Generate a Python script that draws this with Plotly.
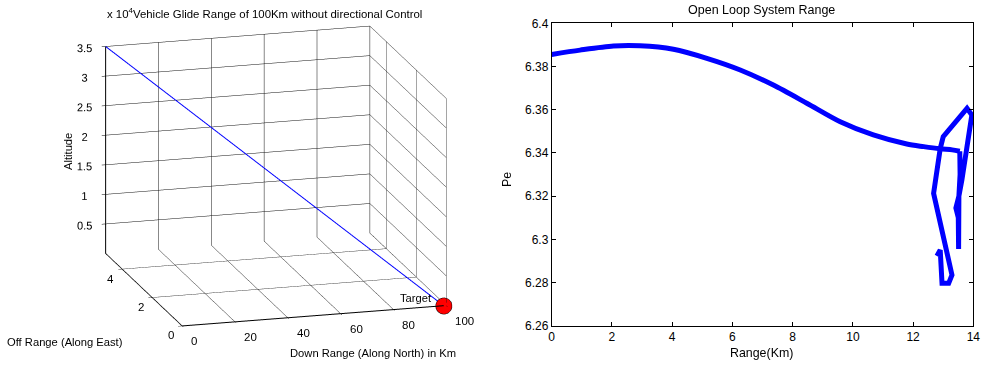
import plotly.graph_objects as go

# ---------------- Left: 3D glide trajectory ----------------
down_range_km = [0, 20, 40, 60, 80, 99]
off_range = [5.1, 4.07, 3.04, 2.01, 0.98, 0.0]
altitude_m = [35000, 27930, 20860, 13790, 6720, 0]
target_xyz = [99, 0, 0]
x3_ticks = [0, 20, 40, 60, 80, 100]
x3_ticktext = ["0", "20", "40", "60", "80", "100"]
y3_ticks = [0, 2, 4]
y3_ticktext = ["0", "2", "4"]
z3_ticks = [5000, 10000, 15000, 20000, 25000, 30000, 35000]
z3_ticktext = ["0.5", "1", "1.5", "2", "2.5", "3", "3.5"]

# ---------------- Right: open loop system range ----------------
range_km = [0, 0.94, 2.05, 2.93, 4.04, 5.15, 6.26, 7.36, 8.47, 9.58, 10.68,
            11.79, 12.35, 12.9, 13.3, 13.55, 13.56, 13.52, 13.42, 13.5, 13.51,
            13.52, 13.62, 13.95, 13.79, 13.0, 12.9, 12.68, 13.29, 13.18, 12.96,
            12.9, 12.79]
pe = [6.3856, 6.3876, 6.3895, 6.3896, 6.388, 6.3838, 6.3784, 6.3714, 6.363,
      6.3544, 6.3483, 6.3441, 6.3429, 6.3419, 6.3414, 6.3408, 6.330, 6.320,
      6.3145, 6.310, 6.2955, 6.320, 6.3275, 6.3575, 6.3606, 6.3475, 6.342,
      6.3213, 6.2835, 6.2796, 6.2796, 6.295, 6.2923]
smooth_part_end = 15  # smooth glide curve up to here, then the sharp loop
x2_ticks = [0, 2, 4, 6, 8, 10, 12, 14]
y2_ticks = [6.26, 6.28, 6.3, 6.32, 6.34, 6.36, 6.38, 6.4]
y2_ticktext = ["6.26", "6.28", "6.3", "6.32", "6.34", "6.36", "6.38", "6.4"]

FONT = "Liberation Sans, Arial, sans-serif"

fig = go.Figure()

fig.add_trace(go.Scatter3d(
    x=down_range_km, y=off_range, z=altitude_m, mode="lines",
    line=dict(color="#0000ff", width=2), showlegend=False, hoverinfo="skip"))
fig.add_trace(go.Scatter3d(
    x=[target_xyz[0]], y=[target_xyz[1]], z=[target_xyz[2]], mode="markers",
    marker=dict(size=9.5, color="#ff0000", line=dict(color="black", width=1)),
    showlegend=False, hoverinfo="skip"))

fig.add_trace(go.Scatter(
    x=range_km[:smooth_part_end + 1], y=pe[:smooth_part_end + 1], mode="lines",
    line=dict(color="#0000ff", width=5, shape="spline", smoothing=0.8),
    xaxis="x", yaxis="y", showlegend=False, hoverinfo="skip"))
fig.add_trace(go.Scatter(
    x=range_km[smooth_part_end:], y=pe[smooth_part_end:], mode="lines",
    line=dict(color="#0000ff", width=5),
    xaxis="x", yaxis="y", showlegend=False, hoverinfo="skip"))

ax3 = dict(showgrid=True, gridcolor="#111111", gridwidth=1, showline=True,
           linecolor="black", linewidth=2, ticks="outside", ticklen=4,
           tickcolor="black", showbackground=False, zeroline=False,
           showspikes=False, title=dict(text=""), tickangle=0,
           tickfont=dict(family=FONT, size=11.5, color="black"))

tick_font = dict(family=FONT, size=11.5, color="black")
scene_ann = [dict(x=target_xyz[0], y=target_xyz[1], z=target_xyz[2],
                  text="Target", showarrow=False, xanchor="right",
                  xshift=-10, yshift=7,
                  font=dict(family=FONT, size=11.2, color="black"))]
for v, t in zip(x3_ticks, x3_ticktext):
    scene_ann.append(dict(x=v, y=0, z=0, text=t, showarrow=False,
                          xanchor="left", yanchor="middle", xshift=7, yshift=-16,
                          font=tick_font))
for v, t in zip(y3_ticks, y3_ticktext):
    scene_ann.append(dict(x=0, y=v, z=0, text=t, showarrow=False,
                          xanchor="right", yanchor="middle", xshift=-6, yshift=-10,
                          font=tick_font))

k = 1.57
fig.update_layout(
    width=981, height=365,
    margin=dict(l=0, r=0, t=0, b=0, autoexpand=False),
    paper_bgcolor="white", plot_bgcolor="white",
    font=dict(family=FONT, size=11, color="black"),
    scene=dict(
        domain=dict(x=[0.0212, 0.5412], y=[0.04, 0.998]),
        xaxis=dict(ax3, range=[0, 100], tickvals=x3_ticks, showticklabels=False),
        yaxis=dict(ax3, range=[0, 5.1], tickvals=y3_ticks, showticklabels=False),
        zaxis=dict(ax3, range=[0, 35000], tickvals=z3_ticks, ticktext=z3_ticktext),
        aspectmode="manual", aspectratio=dict(x=1 * k, y=1.013 * k, z=0.7826 * k),
        camera=dict(eye=dict(x=-0.2645 * 1.3, y=-0.9255 * 1.3, z=0.2708 * 1.3),
                    up=dict(x=0, y=0, z=1), center=dict(x=0, y=0, z=0),
                    projection=dict(type="orthographic")),
        bgcolor="rgba(0,0,0,0)",
        annotations=scene_ann,
    ),
    xaxis=dict(domain=[0.5624, 0.9922], range=[0, 14], tickvals=x2_ticks,
               showline=True, linecolor="black", linewidth=1, mirror="ticks",
               ticks="inside", ticklen=4, tickcolor="black", showgrid=False,
               zeroline=False, anchor="y", automargin=False,
               tickfont=dict(family=FONT, size=12, color="black")),
    yaxis=dict(domain=[0.1077, 0.9361], range=[6.26, 6.4], tickvals=y2_ticks,
               ticktext=y2_ticktext, automargin=False,
               showline=True, linecolor="black", linewidth=1, mirror="ticks",
               ticks="inside", ticklen=4, tickcolor="black", showgrid=False,
               zeroline=False, anchor="x",
               tickfont=dict(family=FONT, size=12, color="black")),
    annotations=[
        dict(text="x 10<sup>4</sup>Vehicle Glide Range of 100Km without directional Control",
             x=105 / 981, y=1 - 13 / 365, xref="paper", yref="paper",
             xanchor="left", yanchor="middle", showarrow=False,
             font=dict(family=FONT, size=11.4)),
        dict(text="Altitude", x=68 / 981, y=1 - 152 / 365, xref="paper", yref="paper",
             textangle=-90, showarrow=False, xanchor="center", yanchor="middle",
             font=dict(family=FONT, size=11.2)),
        dict(text="Off Range (Along East)", x=5 / 981, y=1 - 342 / 365,
             xref="paper", yref="paper", xanchor="left", yanchor="middle",
             showarrow=False, font=dict(family=FONT, size=11.2)),
        dict(text="Down Range (Along North) in Km", x=373 / 981, y=1 - 353 / 365,
             xref="paper", yref="paper", xanchor="center", yanchor="middle",
             showarrow=False, font=dict(family=FONT, size=11.2)),
        dict(text="Open Loop System Range", x=761 / 981, y=1 - 10 / 365,
             xref="paper", yref="paper", xanchor="center", yanchor="middle",
             showarrow=False, font=dict(family=FONT, size=12.5)),
        dict(text="Range(Km)", x=761 / 981, y=1 - 353 / 365,
             xref="paper", yref="paper", xanchor="center", yanchor="middle",
             showarrow=False, font=dict(family=FONT, size=12.4)),
        dict(text="Pe", x=507 / 981, y=1 - 180 / 365, xref="paper", yref="paper",
             textangle=-90, showarrow=False, xanchor="center", yanchor="middle",
             font=dict(family=FONT, size=12.4)),
    ],
)

fig.write_html("out.html", post_script="document.body.style.margin='0';",
               config={"displayModeBar": False})
